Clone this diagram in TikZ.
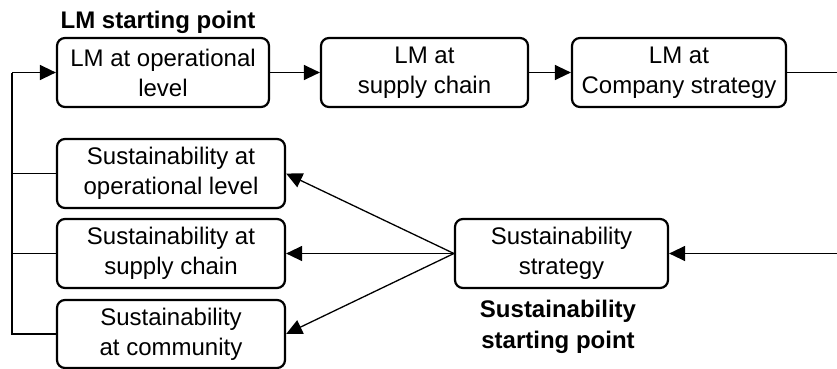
\documentclass[tikz,border=0pt]{standalone}
\usepackage{fontspec}
\setmainfont{Liberation Sans}
\usetikzlibrary{arrows.meta}
\begin{document}
\begin{tikzpicture}[x=1pt,y=-1pt,
  box/.style={draw, line width=2.2pt, rounded corners=8pt, inner sep=0pt,
    align=center, minimum height=69pt, font=\fontsize{24}{30}\selectfont},
  tag/.style={align=center, font=\bfseries\fontsize{24}{31}\selectfont},
  link/.style={line width=1.3pt},
  arr/.style={link, -{Triangle[length=16pt,width=15pt]}}]
\useasboundingbox (0,0) rectangle (837,369);
% lean manufacturing row
\node[box, minimum width=212pt] (lmop) at (163,72.5) {LM at operational\\level};
\node[box, minimum width=207pt] (lmsc) at (424.5,72.5) {LM at\\supply chain};
\node[box, minimum width=214pt] (lmcs) at (679,72.5) {LM at\\Company strategy};
% sustainability column
\node[box, minimum width=228pt] (susop) at (171,173.5) {Sustainability at\\operational level};
\node[box, minimum width=228pt] (sussc) at (171,253.5) {Sustainability at\\supply chain};
\node[box, minimum width=228pt, minimum height=68pt] (suscom) at (171,334) {Sustainability\\at community};
\node[box, minimum width=213pt] (susst) at (561.5,253.5) {Sustainability\\strategy};
% starting point labels
\node[tag] (lmstart) at (158,22) {LM starting point};
\node[tag] (susstart) at (558,327) {Sustainability\\starting point};
% return path coordinates
\coordinate (rtop) at (848,72.5);
\coordinate (rbot) at (848,253.5);
\coordinate (ltop) at (12,72.5);
\coordinate (lbot) at (12,334);
% connectors
\draw[arr] (lmop) -- (lmsc);
\draw[arr] (lmsc) -- (lmcs);
\draw[link] (lmcs.east) -- (rtop) -- (rbot);
\draw[arr] (rbot) -- (susst.east);
\draw[arr] (susst.west) -- (susop.east);
\draw[arr] (susst.west) -- (sussc.east);
\draw[arr] (susst.west) -- (suscom.east);
\draw[link] (susop.west) -- (susop.west -| ltop);
\draw[link] (sussc.west) -- (sussc.west -| ltop);
\draw[link] (suscom.west) -- (lbot) -- (ltop);
\draw[arr] (ltop) -- (lmop.west);
\end{tikzpicture}
\end{document}
